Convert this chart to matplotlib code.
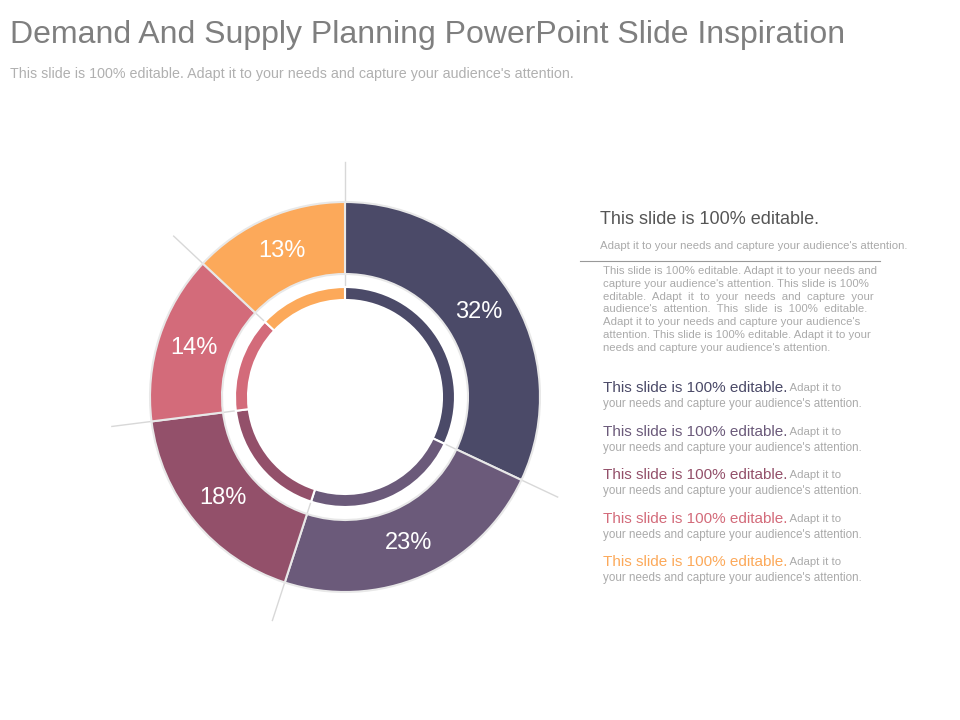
import numpy as np
import matplotlib.pyplot as plt

shares = [32, 23, 18, 14, 13]
seg_colors = ['#4b4a68', '#6b5a7a', '#93506a', '#d36b7a', '#fca95a']
labels = ['{}%'.format(s) for s in shares]

title = 'Demand And Supply Planning PowerPoint Slide Inspiration'
subtitle = "This slide is 100% editable. Adapt it to your needs and capture your audience's attention."
para = ("This slide is 100% editable. Adapt it to your needs and\n"
        "capture your audience's attention. This slide is 100%\n"
        "editable.  Adapt  it  to  your  needs  and  capture  your\n"
        "audience's  attention.  This  slide  is  100%  editable.\n"
        "Adapt it to your needs and capture your audience's\n"
        "attention. This slide is 100% editable. Adapt it to your\n"
        "needs and capture your audience's attention.")

fig = plt.figure(figsize=(9.6, 7.2), dpi=100)
ax = fig.add_axes([0, 0, 1, 1])

cx, cy = 345, 397
r_out, w_out = 195, 72
r_in, w_in = 110, 13

# light rays at segment boundaries
ang = 90.0
for s in shares:
    a = np.deg2rad(ang)
    ax.plot([cx + 100 * np.cos(a), cx + 235 * np.cos(a)],
            [cy - 100 * np.sin(a), cy - 235 * np.sin(a)],
            color='#d8d8d8', lw=1, zorder=1)
    ang -= s / sum(shares) * 360

# y axis is inverted, so counterclock in data = clockwise on screen
ax.pie(shares, colors=seg_colors, startangle=-90, counterclock=True,
       center=(cx, cy), radius=r_out, frame=True,
       wedgeprops=dict(width=w_out, edgecolor='#e8e8e8', linewidth=1.5))
ax.pie(shares, colors=seg_colors, startangle=-90, counterclock=True,
       center=(cx, cy), radius=r_in, frame=True,
       wedgeprops=dict(width=w_in, edgecolor='white', linewidth=1.5))
ax.set_xlim(0, 960)
ax.set_ylim(720, 0)
ax.set_aspect('equal')
ax.axis('off')

ang = 90.0
for s, lab in zip(shares, labels):
    mid = np.deg2rad(ang - s / sum(shares) * 180)
    rr = r_out - w_out / 2
    ax.text(cx + rr * np.cos(mid), cy - rr * np.sin(mid), lab,
            color='white', fontsize=17, ha='center', va='center',
            family='Liberation Sans')
    ang -= s / sum(shares) * 360

ax.text(10, 35, title, fontsize=23, color='#7f7f7f', va='center',
        family='Liberation Sans')
ax.text(10, 74, subtitle, fontsize=10.3, color='#b0b0b0', va='center',
        family='Liberation Sans')

ax.text(600, 220, 'This slide is 100% editable.', fontsize=13, color='#555555',
        va='center', family='Liberation Sans')
ax.text(600, 246, "Adapt it to your needs and capture your audience's attention.",
        fontsize=8.2, color='#aaaaaa', va='center', family='Liberation Sans')
ax.plot([580, 880], [261, 261], color='#999999', lw=0.8)
ax.text(603, 266, para, fontsize=8.2, color='#aaaaaa', va='top',
        family='Liberation Sans', linespacing=1.35)

ys = [388, 432, 475, 519, 562]
for y, c in zip(ys, seg_colors):
    t = ax.text(603, y, 'This slide is 100% editable.', fontsize=11, color=c,
                va='center', family='Liberation Sans')
    ax.annotate(' Adapt it to', xycoords=t, xy=(1, 0.5), va='center',
                fontsize=8.2, color='#aaaaaa', family='Liberation Sans')
    ax.text(603, y + 16, "your needs and capture your audience's attention.",
            fontsize=8.4, color='#aaaaaa', va='center', family='Liberation Sans')

fig.savefig('out.png', dpi=100)
